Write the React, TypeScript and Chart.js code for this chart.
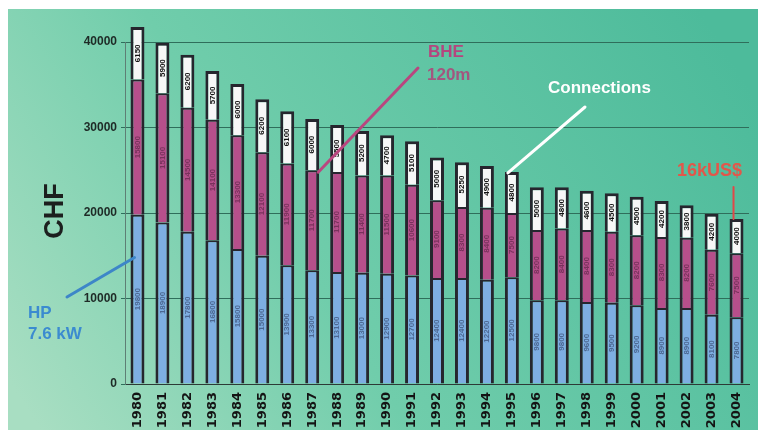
import { useEffect, useRef } from "react";
import { Chart, registerables } from "chart.js";

Chart.register(...registerables);

// Yearly cost breakdown of a heat-pump installation (CHF)
const years = [
  "1980", "1981", "1982", "1983", "1984", "1985", "1986", "1987", "1988",
  "1989", "1990", "1991", "1992", "1993", "1994", "1995", "1996", "1997",
  "1998", "1999", "2000", "2001", "2002", "2003", "2004",
];

// Heat pump unit (HP 7.6 kW)
const heatPump = [
  19800, 18900, 17800, 16800, 15800, 15000, 13900, 13300, 13100, 13000,
  12900, 12700, 12400, 12400, 12200, 12500, 9800, 9800, 9600, 9500,
  9200, 8900, 8900, 8100, 7800,
];

// Borehole heat exchanger (BHE 120 m)
const borehole = [
  15800, 15100, 14500, 14100, 13300, 12100, 11900, 11700, 11700, 11400,
  11500, 10600, 9100, 8300, 8400, 7500, 8200, 8400, 8400, 8300,
  8200, 8300, 8200, 7600, 7500,
];

// Connections
const connections = [
  6150, 5900, 6200, 5700, 6000, 6200, 6100, 6000, 5500, 5200,
  4700, 5100, 5000, 5250, 4900, 4800, 5000, 4800, 4600, 4500,
  4500, 4200, 3800, 4200, 4000,
];

const yTicks = [0, 10000, 20000, 30000, 40000];

const FONT = "'Liberation Sans', Arial, sans-serif";

const backdrop = {
  id: "backdrop",
  beforeDraw(chart: any) {
    const { ctx, width, height } = chart;
    ctx.save();
    ctx.fillStyle = "#ffffff";
    ctx.fillRect(0, 0, width, height);
    const g = ctx.createLinearGradient(40, 430, 700, 10);
    g.addColorStop(0, "#a8dec2");
    g.addColorStop(0.4, "#70cdab");
    g.addColorStop(1, "#4dbb9b");
    ctx.fillStyle = g;
    ctx.fillRect(8, 9, 750, 421);
    ctx.restore();
  },
};

// Values written vertically inside each bar segment
const segmentLabels = {
  id: "segmentLabels",
  afterDatasetsDraw(chart: any) {
    const { ctx } = chart;
    const inks = ["rgba(35,45,80,0.55)", "rgba(60,20,45,0.5)", "#121212"];
    chart.data.datasets.forEach((ds: any, di: number) => {
      const meta = chart.getDatasetMeta(di);
      meta.data.forEach((bar: any, i: number) => {
        const { x, y, base } = bar.getProps(["x", "y", "base"], true);
        ctx.save();
        ctx.translate(x, (y + base) / 2);
        ctx.rotate(-Math.PI / 2);
        ctx.font = `bold 8px ${FONT}`;
        ctx.fillStyle = inks[di];
        ctx.textAlign = "center";
        ctx.textBaseline = "middle";
        ctx.fillText(String(ds.data[i]), 0, 0);
        ctx.restore();
      });
    });
  },
};

const callouts = {
  id: "callouts",
  afterDraw(chart: any) {
    const { ctx } = chart;
    const xs = chart.scales.x;
    const ys = chart.scales.y;
    const total = (i: number) => heatPump[i] + borehole[i] + connections[i];

    const line = (x1: number, y1: number, x2: number, y2: number, color: string, w: number) => {
      ctx.save();
      ctx.strokeStyle = color;
      ctx.lineWidth = w;
      ctx.lineCap = "round";
      ctx.beginPath();
      ctx.moveTo(x1, y1);
      ctx.lineTo(x2, y2);
      ctx.stroke();
      ctx.restore();
    };
    const text = (s: string, x: number, y: number, color: string, size: number) => {
      ctx.save();
      ctx.font = `bold ${size}px ${FONT}`;
      ctx.fillStyle = color;
      ctx.textAlign = "left";
      ctx.textBaseline = "middle";
      ctx.fillText(s, x, y);
      ctx.restore();
    };

    // HP
    line(67, 297, xs.getPixelForValue(0) - 3, ys.getPixelForValue(14800), "#3d86c8", 3);
    text("HP", 28, 313, "#3b8bd0", 17);
    text("7.6 kW", 28, 334, "#3b8bd0", 17);

    // BHE
    line(xs.getPixelForValue(7) + 6, ys.getPixelForValue(heatPump[7] + borehole[7]) + 2, 418, 68, "#b9467f", 3);
    text("BHE", 428, 52, "#b5457e", 17);
    text("120m", 427, 75, "#a3567f", 17);

    // Connections
    line(xs.getPixelForValue(15) - 4, ys.getPixelForValue(total(15)) + 1, 585, 107, "#ffffff", 3);
    text("Connections", 548, 88, "#ffffff", 17);

    // Price in US$
    const x24 = xs.getPixelForValue(24) - 3;
    line(x24, 187, x24, ys.getPixelForValue(total(24)), "#e04848", 2);
    text("16kUS$", 677, 171, "#e2574a", 18);

    // Axis title
    ctx.save();
    ctx.translate(56, 211);
    ctx.rotate(-Math.PI / 2);
    ctx.font = `bold 27px ${FONT}`;
    ctx.fillStyle = "#1c1f1e";
    ctx.textAlign = "center";
    ctx.textBaseline = "middle";
    ctx.fillText("CHF", 0, 0);
    ctx.restore();
  },
};

export default function App() {
  const ref = useRef<HTMLCanvasElement | null>(null);

  useEffect(() => {
    if (!ref.current) return;
    const border = "#26262e";
    const chart = new Chart(ref.current, {
      type: "bar",
      data: {
        labels: years,
        datasets: [
          {
            label: "HP",
            data: heatPump,
            backgroundColor: "#7eaee2",
            borderColor: border,
            borderWidth: { left: 3, right: 3, top: 2, bottom: 0 },
            clip: false,
          },
          {
            label: "BHE",
            data: borehole,
            backgroundColor: "#b64f8b",
            borderColor: border,
            borderWidth: { left: 3, right: 3, top: 2, bottom: 0 },
            clip: false,
          },
          {
            label: "Connections",
            data: connections,
            backgroundColor: "#f7f7f7",
            borderColor: border,
            borderWidth: { left: 3, right: 3, top: 3, bottom: 0 },
            clip: false,
          },
        ],
      },
      options: {
        responsive: false,
        animation: false,
        devicePixelRatio: 1,
        layout: { padding: { top: 42, right: 17, bottom: 0, left: 0 } },
        datasets: { bar: { barPercentage: 0.56, categoryPercentage: 1 } },
        plugins: {
          legend: { display: false },
          tooltip: { enabled: false },
        },
        scales: {
          x: {
            stacked: true,
            grid: { display: false, drawTicks: false },
            border: { display: true, color: "#2d3a36", width: 1 },
            ticks: {
              color: "#141414",
              font: { family: "'DejaVu Sans', sans-serif", weight: "bold", size: 13 },
              minRotation: 90,
              maxRotation: 90,
              autoSkip: false,
              padding: 8,
            },
            afterFit(scale: any) {
              scale.height = 50;
            },
          },
          y: {
            stacked: true,
            min: 0,
            max: 40000,
            afterBuildTicks(scale: any) {
              scale.ticks = yTicks.map((v) => ({ value: v }));
            },
            grid: { color: "#2f6e5b", lineWidth: 1, tickLength: 4 },
            border: { display: true, color: "#5e7f75", width: 1 },
            ticks: {
              color: "#1e2a26",
              font: { family: FONT, weight: "bold", size: 12 },
              padding: 4,
              callback: (v: any) => String(v),
            },
            afterFit(scale: any) {
              scale.width = 125;
            },
          },
        },
      },
      plugins: [backdrop, segmentLabels, callouts],
    });
    return () => chart.destroy();
  }, []);

  return (
    <div style={{ position: "fixed", left: 0, top: 0, width: 766, height: 434 }}>
      <canvas ref={ref} width={766} height={434} style={{ display: "block" }} />
    </div>
  );
}
